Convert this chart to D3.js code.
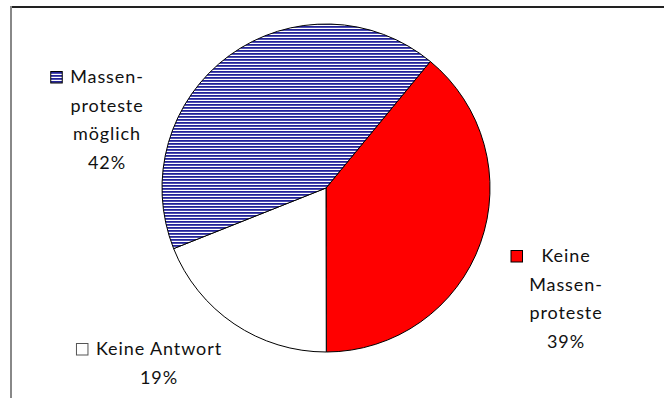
<!DOCTYPE html>
<html><head><meta charset="utf-8">
<script src="https://cdn.jsdelivr.net/npm/d3@7"></script>
<style>html,body{margin:0;padding:0;background:#fff;}svg{display:block;}</style>
</head><body>
<svg id="c" width="664" height="398"></svg>
<script>
const categories = ["Keine Massenproteste", "Keine Antwort", "Massenproteste möglich"];
const values = [39, 19, 42];
const labelLines = [["Keine", "Massen-", "proteste", "39%"], ["Keine Antwort", "19%"], ["Massen-", "proteste", "möglich", "42%"]];
const fills = ["#ff0000", "#ffffff", "url(#stripes)"];

const svg = d3.select("#c");
const W = 664, H = 398;
svg.append("rect").attr("width", W).attr("height", H).attr("fill", "#fff");

// stripes pattern
const defs = svg.append("defs");
const pat = defs.append("pattern").attr("id", "stripes").attr("patternUnits", "userSpaceOnUse")
  .attr("width", 8).attr("height", 3);
pat.append("rect").attr("width", 8).attr("height", 3).attr("fill", "#ffffff");
pat.append("rect").attr("y", 0).attr("width", 8).attr("height", 1.8).attr("fill", "#22229a");

// frame
svg.append("line").attr("x1", 10).attr("x2", W).attr("y1", 7).attr("y2", 7).attr("stroke", "#222").attr("stroke-width", 2);
svg.append("line").attr("x1", 11).attr("x2", 11).attr("y1", 6).attr("y2", H).attr("stroke", "#888").attr("stroke-width", 2);

const cx = 326, cy = 188, r = 164;
const start = 39.5 * Math.PI / 180;
const pie = d3.pie().sort(null).value(d => d).startAngle(start).endAngle(start + 2 * Math.PI);
const arc = d3.arc().innerRadius(0).outerRadius(r);
const g = svg.append("g").attr("transform", `translate(${cx},${cy})`);
g.selectAll("path").data(pie(values)).join("path")
  .attr("d", arc)
  .attr("fill", (d, i) => fills[i])
  .attr("stroke", "#000").attr("stroke-width", 1).attr("stroke-linejoin", "round");

// labels
const font = "Lato, 'Open Sans', sans-serif";
const fs = 18, lh = 28.7;
const labelPos = [
  {x: 566, y: 262},
  {x: 159, y: 355},
  {x: 107, y: 83}
];
labelLines.forEach((lines, i) => {
  const p = labelPos[i];
  const t = svg.append("text").attr("font-family", font).attr("font-size", fs).attr("fill", "#111")
    .attr("letter-spacing", 0.9)
    .attr("text-anchor", "middle");
  lines.forEach((ln, k) => {
    t.append("tspan").attr("x", p.x).attr("y", p.y + k * lh).text(ln);
  });
  const first = t.select("tspan").node();
  const bb = first.getBBox();
  const sz = 11.5;
  let ix = bb.x - sz - 8;
  if (i === 0) ix = 511;
  svg.append("rect").attr("x", ix).attr("y", p.y - sz).attr("width", sz).attr("height", sz)
    .attr("fill", fills[i]).attr("stroke", i === 1 ? "#555" : "#000").attr("stroke-width", 1);
});
</script>
</body></html>
